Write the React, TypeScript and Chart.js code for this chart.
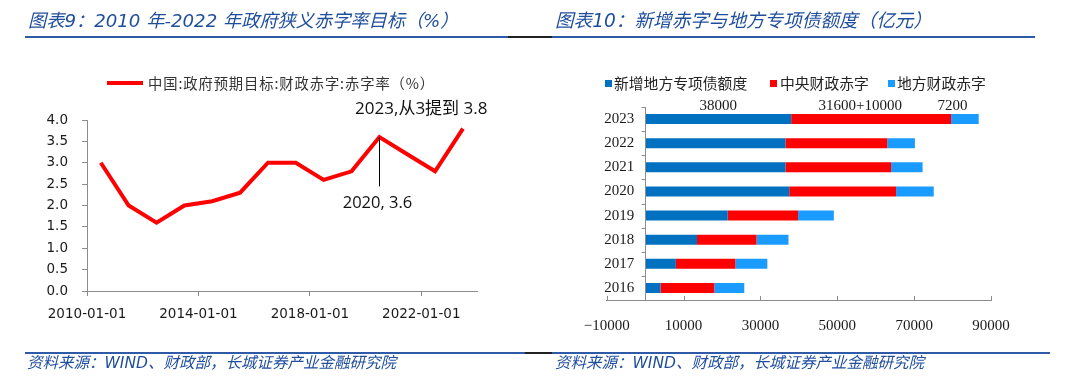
import React, { useEffect, useRef } from "react";
import { Chart, registerables } from "chart.js";
Chart.register(...registerables);

// ---------- Left chart data ----------
const deficitDates = [
  "2010-07-01", "2011-07-01", "2012-07-01", "2013-07-01", "2014-07-01",
  "2015-07-01", "2016-07-01", "2017-07-01", "2018-07-01", "2019-07-01",
  "2020-07-01", "2021-07-01", "2022-07-01", "2023-07-01",
];
const deficitRates = [3.0, 2.0, 1.6, 2.0, 2.1, 2.3, 3.0, 3.0, 2.6, 2.8, 3.6, 3.2, 2.8, 3.8];
const yearTicks = [2010, 2014, 2018, 2022];
const rateTicks = [0, 0.5, 1, 1.5, 2, 2.5, 3, 3.5, 4];
const lineLegend = "中国:政府预期目标:财政赤字:赤字率（%）";
const callout2020 = "2020, 3.6";
const callout2023 = "2023,从3提到 3.8";

// ---------- Right chart data ----------
const barYears = ["2016", "2017", "2018", "2019", "2020", "2021", "2022", "2023"];
const specialBonds = [4000, 8000, 13500, 21500, 37500, 36500, 36500, 38000];
const centralDeficit = [14000, 15500, 15500, 18300, 27800, 27500, 26500, 41600];
const localDeficit = [7800, 8300, 8300, 9300, 9800, 8200, 7200, 7200];
const amountTicks = [-10000, 10000, 30000, 50000, 70000, 90000];
const seriesNames = ["新增地方专项债额度", "中央财政赤字", "地方财政赤字"];
const topLabels = ["38000", "31600+10000", "7200"];
const topLabelValues = [19000, 56000, 80000];

const BLUE = "#0070C0";
const RED = "#FF0000";
const LIGHT = "#1A9BFF";
const TITLE_BLUE = "#1F4E9D";
const LINE_BLUE = "#2E5AA7";
const AXIS = "#8C8C8C";

function toYear(d: string): number {
  const t = new Date(d + "T00:00:00Z");
  const y = t.getUTCFullYear();
  const s = Date.UTC(y, 0, 1);
  const e = Date.UTC(y + 1, 0, 1);
  return y + (t.getTime() - s) / (e - s);
}

const sansTick = { family: "'DejaVu Sans', 'Noto Sans CJK SC'", size: 13.5 };
const serifTick = { family: "'Liberation Serif', 'Noto Sans CJK SC'", size: 15 };

function LeftChart() {
  const ref = useRef<HTMLCanvasElement>(null);
  useEffect(() => {
    const calloutPlugin = {
      id: "callouts",
      afterDraw(chart: any) {
        const { ctx, scales } = chart;
        const xs = scales.x, ys = scales.y;
        const i20 = 10;
        const px = Math.round(xs.getPixelForValue(toYear(deficitDates[i20]))) + 0.5;
        const py = ys.getPixelForValue(deficitRates[i20]);
        const labelY = ys.getPixelForValue(2.05);
        ctx.save();
        ctx.strokeStyle = "#000";
        ctx.lineWidth = 1;
        ctx.beginPath();
        ctx.moveTo(px, py);
        ctx.lineTo(px, labelY - 17);
        ctx.stroke();
        ctx.fillStyle = "#111";
        ctx.font = "16.5px 'Open Sans', 'Noto Sans CJK SC'";
        ctx.textAlign = "center";
        ctx.textBaseline = "middle";
        ctx.fillText(callout2020, px - 2, labelY);
        ctx.font = "17px 'Open Sans', 'Noto Sans CJK SC'";
        ctx.fillText(callout2023, xs.getPixelForValue(2022), ys.getPixelForValue(4.26));
        ctx.restore();
      },
    };
    const chart = new Chart(ref.current!, {
      type: "line",
      data: {
        datasets: [
          {
            label: lineLegend,
            data: deficitDates.map((d, i) => ({ x: toYear(d), y: deficitRates[i] })),
            borderColor: RED,
            backgroundColor: RED,
            borderWidth: 4,
            pointRadius: 0,
            tension: 0,
            fill: false,
          },
        ],
      },
      options: {
        responsive: false,
        animation: false,
        layout: { padding: { top: 120, right: 63, left: 0, bottom: 0 } },
        plugins: { legend: { display: false }, tooltip: { enabled: false } },
        scales: {
          x: {
            type: "linear",
            min: 2010,
            max: 2024,
            afterBuildTicks: (s: any) => {
              s.ticks = yearTicks.map((v) => ({ value: v }));
            },
            afterFit: (s: any) => {
              s.height = 91;
            },
            ticks: {
              callback: (v: any) => `${v}-01-01`,
              font: sansTick,
              color: "#1a1a1a",
              padding: 10,
              maxRotation: 0,
              autoSkip: false,
            },
            grid: { drawOnChartArea: false, tickLength: 5, color: AXIS },
            border: { color: AXIS },
          },
          y: {
            min: 0,
            max: 4,
            afterBuildTicks: (s: any) => {
              s.ticks = rateTicks.map((v) => ({ value: v }));
            },
            afterFit: (s: any) => {
              s.width = 87;
            },
            ticks: {
              callback: (v: any) => Number(v).toFixed(1),
              font: sansTick,
              color: "#1a1a1a",
              padding: 14,
            },
            grid: { drawOnChartArea: false, tickLength: 5, color: AXIS },
            border: { color: AXIS },
          },
        },
      },
      plugins: [calloutPlugin],
    } as any);
    return () => chart.destroy();
  }, []);
  return <canvas ref={ref} width={540} height={382} style={{ display: "block", width: 540, height: 382 }} />;
}

function RightChart() {
  const ref = useRef<HTMLCanvasElement>(null);
  useEffect(() => {
    const decor = {
      id: "decor",
      afterDraw(chart: any) {
        const { ctx, scales, chartArea } = chart;
        const xs = scales.x, ys = scales.y;
        const x0 = Math.round(xs.getPixelForValue(0)) + 0.5;
        ctx.save();
        ctx.strokeStyle = AXIS;
        ctx.lineWidth = 1;
        ctx.beginPath();
        ctx.moveTo(x0, chartArea.top);
        ctx.lineTo(x0, chartArea.bottom);
        // category boundary marks
        const n = barYears.length;
        const step = (chartArea.bottom - chartArea.top) / n;
        for (let i = 0; i <= n; i++) {
          const y = Math.round(chartArea.top + i * step) + 0.5;
          ctx.moveTo(x0 - 4, y);
          ctx.lineTo(x0, y);
        }
        // inward x tick marks
        amountTicks.forEach((v) => {
          const x = Math.round(xs.getPixelForValue(v)) + 0.5;
          ctx.moveTo(x, chartArea.bottom);
          ctx.lineTo(x, chartArea.bottom - 4);
        });
        ctx.stroke();
        // labels above 2023 bar
        const yTop = ys.getPixelForValue(barYears.length - 1) - 13;
        ctx.fillStyle = "#1a1a1a";
        ctx.font = "15px 'Liberation Serif'";
        ctx.textAlign = "center";
        ctx.textBaseline = "middle";
        topLabels.forEach((t, i) => {
          ctx.fillText(t, xs.getPixelForValue(topLabelValues[i]), yTop);
        });
        ctx.restore();
      },
    };
    const chart = new Chart(ref.current!, {
      type: "bar",
      data: {
        labels: barYears,
        datasets: [
          { label: seriesNames[0], data: specialBonds, backgroundColor: BLUE },
          { label: seriesNames[1], data: centralDeficit, backgroundColor: RED },
          { label: seriesNames[2], data: localDeficit, backgroundColor: LIGHT },
        ],
      },
      options: {
        indexAxis: "y",
        responsive: false,
        animation: false,
        layout: { padding: { top: 107, right: 89, left: 0, bottom: 0 } },
        datasets: { bar: { categoryPercentage: 1, barPercentage: 0.41 } },
        plugins: { legend: { display: false }, tooltip: { enabled: false } },
        scales: {
          x: {
            stacked: true,
            min: -10000,
            max: 90000,
            afterBuildTicks: (s: any) => {
              s.ticks = amountTicks.map((v) => ({ value: v }));
            },
            afterFit: (s: any) => {
              s.height = 82;
            },
            ticks: {
              callback: (v: any) => (v < 0 ? "\u2212" + Math.abs(v) : String(v)),
              font: serifTick,
              color: "#1a1a1a",
              padding: 9,
              maxRotation: 0,
              autoSkip: false,
            },
            grid: { display: false },
            border: { color: AXIS },
          },
          y: {
            stacked: true,
            reverse: true,
            afterFit: (s: any) => {
              s.width = 66.7;
            },
            ticks: { font: serifTick, color: "#1a1a1a", mirror: true, crossAlign: "near", padding: -2.4 },
            grid: { display: false },
            border: { display: false },
          },
        },
      },
      plugins: [decor],
    } as any);
    return () => chart.destroy();
  }, []);
  return <canvas ref={ref} width={540} height={382} style={{ display: "block", width: 540, height: 382 }} />;
}

const abs = (o: any): React.CSSProperties => ({ position: "absolute", ...o });

export default function App() {
  const titleFont = "'DejaVu Sans', 'Noto Sans CJK SC', sans-serif";
  const cjk = "'Noto Sans CJK SC', sans-serif";
  return (
    <div style={abs({ left: 0, top: 0, width: 1080, height: 382, background: "#fff", overflow: "hidden" })}>
      <div style={abs({ left: 0, top: 0 })}>
        <LeftChart />
      </div>
      <div style={abs({ left: 540, top: 0 })}>
        <RightChart />
      </div>

      {/* titles */}
      <div style={abs({ left: 28, top: 8, height: 26, lineHeight: "26px", fontFamily: titleFont, fontStyle: "italic", fontSize: 18.2, color: TITLE_BLUE, whiteSpace: "nowrap" })}>
        图表9：2010 年-2022 年政府狭义赤字率目标（%）
      </div>
      <div style={abs({ left: 555, top: 8, height: 26, lineHeight: "26px", fontFamily: titleFont, fontStyle: "italic", fontSize: 18.6, color: TITLE_BLUE, whiteSpace: "nowrap" })}>
        图表10：新增赤字与地方专项债额度（亿元）
      </div>
      {/* top rules */}
      <div style={abs({ left: 25, top: 36, width: 483, height: 2, background: LINE_BLUE })} />
      <div style={abs({ left: 508, top: 36, width: 44, height: 2, background: "#222" })} />
      <div style={abs({ left: 552, top: 36, width: 483, height: 2, background: LINE_BLUE })} />
      {/* bottom rules */}
      <div style={abs({ left: 25, top: 352, width: 500, height: 2, background: LINE_BLUE })} />
      <div style={abs({ left: 525, top: 352, width: 27, height: 2, background: "#222" })} />
      <div style={abs({ left: 552, top: 352, width: 498, height: 2, background: LINE_BLUE })} />
      {/* sources */}
      <div style={abs({ left: 27, top: 352, height: 22, lineHeight: "22px", fontFamily: titleFont, fontStyle: "italic", fontSize: 15.5, color: TITLE_BLUE, whiteSpace: "nowrap" })}>
        资料来源：WIND、财政部，长城证券产业金融研究院
      </div>
      <div style={abs({ left: 555, top: 352, height: 22, lineHeight: "22px", fontFamily: titleFont, fontStyle: "italic", fontSize: 15.5, color: TITLE_BLUE, whiteSpace: "nowrap" })}>
        资料来源：WIND、财政部，长城证券产业金融研究院
      </div>

      {/* left legend */}
      <div style={abs({ left: 107, top: 81, width: 36, height: 4, background: RED })} />
      <div style={abs({ left: 148, top: 72, height: 22, lineHeight: "22px", fontFamily: cjk, fontSize: 14.3, letterSpacing: 0.9, color: "#333", whiteSpace: "nowrap" })}>
        {lineLegend}
      </div>

      {/* right legend */}
      <div style={abs({ left: 605, top: 80, width: 7, height: 7, background: BLUE })} />
      <div style={abs({ left: 614, top: 72, height: 22, lineHeight: "22px", fontFamily: cjk, fontSize: 14.8, color: "#222", whiteSpace: "nowrap" })}>
        {seriesNames[0]}
      </div>
      <div style={abs({ left: 770, top: 80, width: 7, height: 7, background: RED })} />
      <div style={abs({ left: 780, top: 72, height: 22, lineHeight: "22px", fontFamily: cjk, fontSize: 14.8, color: "#222", whiteSpace: "nowrap" })}>
        {seriesNames[1]}
      </div>
      <div style={abs({ left: 888, top: 80, width: 7, height: 7, background: LIGHT })} />
      <div style={abs({ left: 897, top: 72, height: 22, lineHeight: "22px", fontFamily: cjk, fontSize: 14.8, color: "#222", whiteSpace: "nowrap" })}>
        {seriesNames[2]}
      </div>
    </div>
  );
}
